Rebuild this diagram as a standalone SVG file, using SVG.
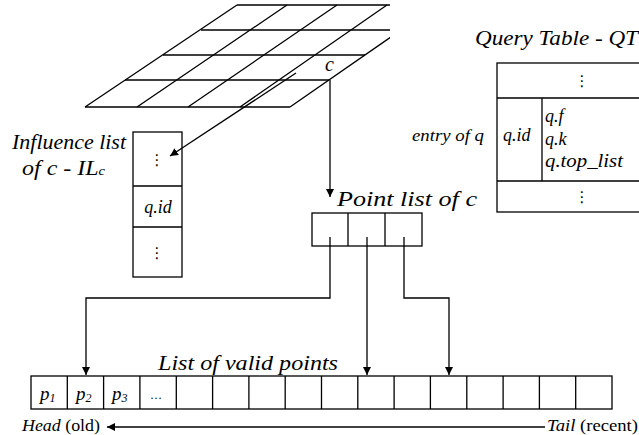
<svg xmlns="http://www.w3.org/2000/svg" width="639" height="435" viewBox="0 0 639 435">
<style>
.ln{stroke:#000;stroke-width:1.3;fill:none}
.bx{stroke:#000;stroke-width:1.3;fill:#fff}
.t{font-family:'Liberation Serif',Tinos,'Times New Roman',Times,'Noto Serif','DejaVu Serif',FreeSerif,serif;font-style:italic;fill:#000}
.r{font-style:normal}
.d{font-family:'DejaVu Sans',sans-serif;font-size:15px;fill:#000;text-anchor:middle}
</style>
<defs>
<marker id="ah" viewBox="0 0 10 10" refX="10" refY="5" markerWidth="8" markerHeight="8" markerUnits="userSpaceOnUse" orient="auto">
<path d="M0,0 L10,5 L0,10 z" fill="#000"/>
</marker>
<clipPath id="gc"><rect x="0" y="0" width="390" height="120"/></clipPath>
</defs>
<rect width="639" height="435" fill="#fff"/>

<g id="grid" clip-path="url(#gc)">
<path class="ln" d="M85,107 L290,107 M125,80 L329,80 M163,55 L365,55 M201,30 L401,30 M237,5 L437,5"/>
<path class="ln" d="M85,107 L237,5 M137,107 L287,5 M188,107 L337,5 M240,107 L387,5 M290,107 L437,5"/>
<text class="t" x="325" y="71" font-size="20">c</text>
</g>

<g id="influence-list">
<rect class="bx" x="133" y="132" width="49" height="145"/>
<path class="ln" d="M133,186 H182 M133,227 H182"/>
<text class="d" x="157" y="165">⋮</text>
<text class="t" x="158" y="213" font-size="18" text-anchor="middle">q.id</text>
<text class="d" x="157" y="258">⋮</text>
<text class="t" x="12" y="149" font-size="20" textLength="114" lengthAdjust="spacingAndGlyphs">Influence list</text>
<text class="t" x="22" y="175" font-size="20" textLength="83" lengthAdjust="spacingAndGlyphs">of c - IL<tspan font-size="12">c</tspan></text>
</g>

<g id="query-table">
<text class="t" x="475" y="45" font-size="20" textLength="163" lengthAdjust="spacingAndGlyphs">Query Table - QT</text>
<rect class="bx" x="497" y="63" width="180" height="149"/>
<path class="ln" d="M497,98 H677 M497,181 H677 M542,98 V181"/>
<text class="d" x="582" y="86">⋮</text>
<text class="d" x="582" y="202">⋮</text>
<text class="t" x="503" y="141" font-size="18">q.id</text>
<text class="t" x="545" y="122" font-size="18">q.f</text>
<text class="t" x="545" y="145" font-size="18">q.k</text>
<text class="t" x="545" y="167" font-size="18" textLength="78" lengthAdjust="spacingAndGlyphs">q.top_list</text>
<text class="t" x="412" y="141" font-size="17" textLength="72" lengthAdjust="spacingAndGlyphs">entry of q</text>
</g>

<g id="point-list">
<text class="t" x="337" y="206" font-size="22" textLength="140" lengthAdjust="spacingAndGlyphs">Point list of c</text>
<rect class="bx" x="312" y="213" width="110" height="33"/>
<path class="ln" d="M348,213 V246 M385,213 V246"/>
</g>

<g id="valid-points">
<text class="t" x="158" y="370" font-size="22" textLength="180" lengthAdjust="spacingAndGlyphs">List of valid points</text>
<rect class="bx" x="31" y="376" width="581" height="33"/>
<path class="ln" d="M67.3,376 V409 M103.6,376 V409 M139.9,376 V409 M176.3,376 V409 M212.6,376 V409 M248.9,376 V409 M285.2,376 V409 M321.5,376 V409 M357.8,376 V409 M394.1,376 V409 M430.4,376 V409 M466.8,376 V409 M503.1,376 V409 M539.4,376 V409 M575.7,376 V409"/>
<text class="t" x="40" y="400" font-size="19">p<tspan font-size="12" dy="2">1</tspan></text>
<text class="t" x="76" y="400" font-size="19">p<tspan font-size="12" dy="2">2</tspan></text>
<text class="t" x="112" y="400" font-size="19">p<tspan font-size="12" dy="2">3</tspan></text>
<text class="t r" x="150" y="399" font-size="12">…</text>
</g>

<g id="head-tail">
<text x="22" y="431" font-size="16" class="t" textLength="78" lengthAdjust="spacingAndGlyphs">Head <tspan class="r">(old)</tspan></text>
<text x="547" y="431" font-size="16" class="t" textLength="91" lengthAdjust="spacingAndGlyphs">Tail <tspan class="r">(recent)</tspan></text>
</g>

<g id="connectors">
<path class="ln" d="M296,73 L170,156" marker-end="url(#ah)"/>
<path class="ln" d="M330,80 V197" marker-end="url(#ah)"/>
<path class="ln" d="M330,237 V298 H86 V375" marker-end="url(#ah)"/>
<path class="ln" d="M367,237 V375" marker-end="url(#ah)"/>
<path class="ln" d="M404,237 V298 H449 V375" marker-end="url(#ah)"/>
<path class="ln" d="M545,427 H107" marker-end="url(#ah)"/>
</g>
</svg>
